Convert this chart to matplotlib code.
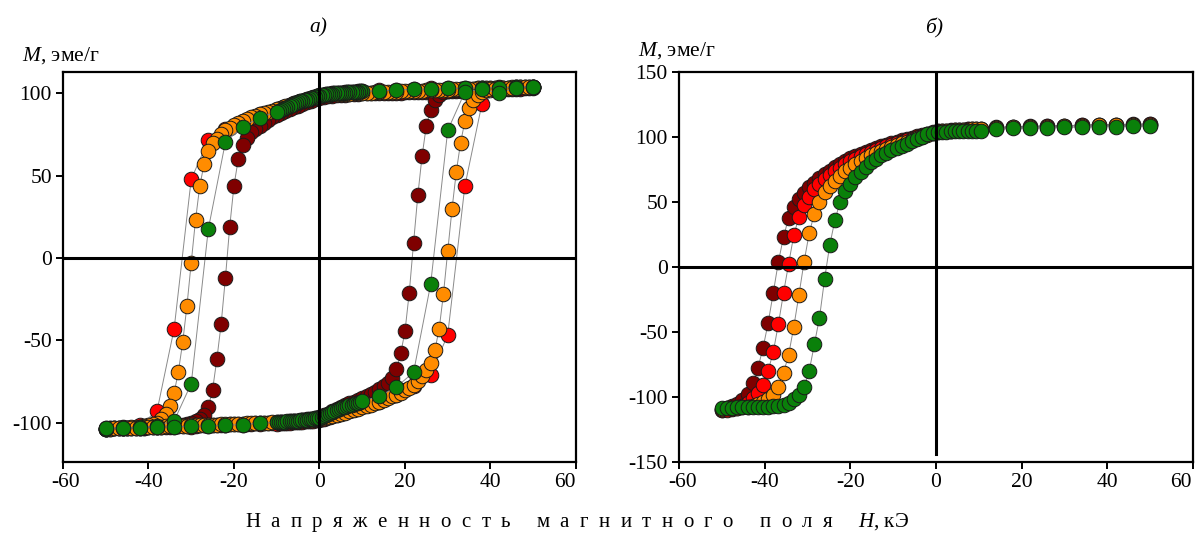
import matplotlib.pyplot as plt
import matplotlib.transforms as mtransforms

plt.rcParams['font.family'] = ['Liberation Serif', 'DejaVu Serif']
plt.rcParams['mathtext.fontset'] = 'custom'
plt.rcParams['mathtext.it'] = 'Liberation Serif:italic'
plt.rcParams['mathtext.rm'] = 'Liberation Serif'
plt.rcParams['axes.unicode_minus'] = False

# ---------------- panel a) ----------------
# field grid for red / green series (coarse outside +-10, fine inside)
h_coarse_desc = [50, 46, 42, 38, 34, 30, 26, 22, 18, 14,
                 10, 9.5, 9, 8.5, 8, 7.5, 7, 6.5, 6, 5.5, 5, 4.5, 4, 3.5, 3, 2.5, 2, 1.5, 1, 0.5,
                 0, -0.5, -1, -1.5, -2, -2.5, -3, -3.5, -4, -4.5, -5, -5.5, -6, -6.5, -7, -7.5,
                 -8, -8.5, -9, -9.5, -10,
                 -14, -18, -22, -26, -30, -34, -38, -42, -46, -50]
h_coarse_asc = h_coarse_desc[::-1]

# field grid for dark red / orange series (1 kOe step)
h_fine_desc = [50, 49, 48, 47, 46, 45, 44, 43, 42, 41,
               40, 39, 38, 37, 36, 35, 34, 33, 32, 31,
               30, 29, 28, 27, 26, 25, 24, 23, 22, 21,
               20, 19, 18, 17, 16, 15, 14, 13, 12, 11,
               10, 9, 8, 7, 6, 5, 4, 3, 2, 1,
               0, -1, -2, -3, -4, -5, -6, -7, -8, -9,
               -10, -11, -12, -13, -14, -15, -16, -17, -18, -19,
               -20, -21, -22, -23, -24, -25, -26, -27, -28, -29,
               -30, -31, -32, -33, -34, -35, -36, -37, -38, -39,
               -40, -41, -42, -43, -44, -45, -46, -47, -48, -49,
               -50]
h_fine_asc = h_fine_desc[::-1]

darkred_up = [103.2, 103.1, 103, 102.9, 102.8, 102.7, 102.6, 102.5, 102.4, 102.3,
              102.2, 102.1, 102, 101.9, 101.8, 101.7, 101.6, 101.5, 101.4, 101.3,
              101.2, 101.1, 101, 100.95, 100.9, 100.85, 100.8, 100.75, 100.7, 100.65,
              100.6, 100.55, 100.5, 100.45, 100.4, 100.35, 100.3, 100.25, 100.2, 100.15,
              100.1, 99.9, 99.7, 99.5, 99.3, 99.1, 98.9, 98.6, 98.2, 97.8,
              97.2, 96.4, 95.5, 94.6, 93.6, 92.6, 91.5, 90.4, 89.3, 88.2,
              87, 85.5, 83.8, 82, 80.3, 78.5, 76.3, 73, 68.5, 60,
              44, 19, -12, -40, -61.4, -80, -90.5, -95.5, -98, -99.3,
              -100.2, -100.8, -101.3, -101.7, -102, -102.2, -102.4, -102.6, -102.8, -102.9,
              -103, -103.1, -103.2, -103.3, -103.4, -103.4, -103.5, -103.5, -103.6, -103.6,
              -103.7]
darkred_down = [-103.7, -103.6, -103.6, -103.5, -103.5, -103.4, -103.4, -103.3, -103.2, -103.1,
                -103, -102.9, -102.8, -102.7, -102.6, -102.5, -102.4, -102.3, -102.2, -102.1,
                -102, -101.9, -101.8, -101.7, -101.6, -101.5, -101.4, -101.3, -101.2, -101.1,
                -101, -100.9, -100.8, -100.7, -100.6, -100.5, -100.4, -100.3, -100.2, -100.1,
                -100, -99.8, -99.6, -99.4, -99.1, -98.8, -98.5, -98.1, -97.7, -97.2,
                -96.5, -95.6, -94.6, -93.2, -91.6, -90.4, -89.3, -88.3, -87.3, -86.3,
                -85.2, -84, -82.6, -81.2, -79.6, -77.8, -75.8, -73, -67.5, -58,
                -44.6, -21, 9, 38, 62, 80.5, 90, 96, 99.2, 100.6,
                101.3, 101.8, 102.1, 102.4, 102.6, 102.8, 102.9, 103, 103.1, 103.2,
                103.3, 103.4, 103.4, 103.5, 103.5, 103.6, 103.6, 103.7, 103.7, 103.8,
                103.8]

orange_up = [104, 104, 104, 104, 103.8, 103.8, 103.6, 103.6, 103.4, 103.4,
             103.2, 103.2, 103, 103, 102.8, 102.8, 102.6, 102.6, 102.4, 102.4,
             102.2, 102.2, 102, 102, 101.8, 101.8, 101.6, 101.6, 101.4, 101.4,
             101.2, 101.2, 101, 101, 100.8, 100.8, 100.6, 100.6, 100.4, 100.4,
             100.2, 100.1, 100, 99.9, 99.8, 99.7, 99.6, 99.4, 99.2, 99,
             98.6, 97.9, 97.2, 96.4, 95.6, 94.8, 94, 93.1, 92.2, 91.3,
             90.4, 89.6, 88.8, 88, 87.2, 86.4, 85.4, 84.3, 83.2, 82,
             80.6, 79.2, 77.6, 75.5, 72.5, 69.9, 65, 57, 43.8, 23,
             -2.8, -29, -51.3, -69, -82, -90, -95, -98, -100, -101,
             -101.8, -102.2, -102.5, -102.8, -103, -103.2, -103.4, -103.5, -103.6, -103.7,
             -103.8]
orange_down = [-103.8, -103.7, -103.6, -103.5, -103.4, -103.3, -103.2, -103.1, -103, -102.9,
               -102.8, -102.7, -102.6, -102.5, -102.4, -102.3, -102.2, -102.1, -102, -101.9,
               -101.8, -101.7, -101.6, -101.5, -101.4, -101.3, -101.2, -101.1, -101, -100.9,
               -100.8, -100.7, -100.6, -100.5, -100.4, -100.3, -100.2, -100.1, -100, -99.9,
               -99.8, -99.6, -99.4, -99.2, -99, -98.8, -98.6, -98.4, -98.2, -98,
               -97.7, -97.3, -96.8, -96.2, -95.5, -94.8, -94, -93.2, -92.4, -91.6,
               -90.8, -90, -89.2, -88.3, -87.3, -86.2, -85, -84, -83, -81.8,
               -80.5, -78.8, -77, -75, -72, -68.3, -64, -56, -43, -21.8,
               4.2, 29.7, 52.3, 70, 83, 91, 96, 99, 100.8, 101.8,
               102.4, 102.8, 103.1, 103.3, 103.5, 103.6, 103.7, 103.8, 103.9, 104,
               104]

red_up = [104.2, 104, 103.8, 103.6, 103.4, 103.2, 103, 102.7, 102.3, 101.8,
          101.4, 101.3, 101.2, 101.1, 101, 100.9, 100.8, 100.7, 100.6, 100.5,
          100.4, 100.3, 100.2, 100.1, 100, 99.9, 99.7, 99.5, 99.3, 99.1,
          98.8, 98.4, 98, 97.6, 97.2, 96.8, 96.4, 96, 95.6, 95.2,
          94.8, 94.4, 94, 93.5, 93, 92.5, 92, 91.6, 91.2, 90.8, 90.4,
          87.5, 83.5, 78.5, 71.5, 47.9, -43, -93, -101.5, -103, -103.5]
red_down = [-103.8, -103.5, -103.2, -103, -102.8, -102.5, -102.2, -101.8, -101.4, -101,
            -100.6, -100.5, -100.4, -100.3, -100.2, -100.1, -100, -99.9, -99.8, -99.7,
            -99.6, -99.5, -99.4, -99.3, -99.2, -99.1, -99, -98.9, -98.7, -98.5,
            -98.2, -97.9, -97.6, -97.2, -96.8, -96.4, -96, -95.6, -95.2, -94.8,
            -94.4, -94, -93.6, -93.2, -92.8, -92.3, -91.8, -91.3, -90.8, -90.3, -89.8,
            -87.5, -83.5, -78, -71, -46.7, 43.6, 93.7, 101.5, 103, 103.8]

green_up = [104, 103.8, 103.6, 103.4, 103.2, 103, 102.8, 102.5, 102, 101.6,
            101.3, 101.2, 101.1, 101, 100.9, 100.8, 100.7, 100.6, 100.5, 100.4,
            100.3, 100.2, 100.1, 100, 99.9, 99.8, 99.6, 99.4, 99.2, 99,
            98.7, 98.3, 97.9, 97.5, 97.1, 96.7, 96.3, 95.9, 95.5, 95.1,
            94.6, 94.1, 93.6, 93.1, 92.5, 91.9, 91.3, 90.6, 89.9, 89.3, 88.7,
            85.3, 79.6, 70.5, 17.6, -76.4, -99, -102, -103, -103.5, -104]
green_down = [-103.3, -103.2, -103.2, -102.8, -102.6, -102.3, -102.2, -101.6, -101.2, -100.5,
              -99.8, -99.7, -99.6, -99.5, -99.4, -99.3, -99.2, -99.1, -99, -98.9,
              -98.8, -98.7, -98.5, -98.4, -98.2, -98, -97.8, -97.6, -97.4, -97.2,
              -97, -96.4, -95.8, -95.2, -94.6, -94, -93.4, -92.8, -92.3, -91.8,
              -91.3, -90.8, -90.4, -90, -89.6, -89.2, -88.8, -88.4, -88, -87.6, -87.2,
              -84, -78.4, -69.5, -16, 77.6, 100.8, 102.8, 100, 103.5, 104]

# ---------------- panel б) ----------------
h_right = [-50, -48.8, -47.6, -46.4, -45.2, -44, -42.8, -41.6, -40.4, -39.2,
           -38, -36.8, -35.6, -34.4, -33.2, -32, -30.8, -29.6, -28.4, -27.2,
           -26, -24.8, -23.6, -22.4, -21.2, -20, -18.8, -17.6, -16.4, -15.2,
           -14, -12.8, -11.6, -10.4, -9.2, -8, -6.8, -5.6, -4.4, -3.2,
           -2, -0.8, 0.4, 1.4, 2.4, 3.4, 4.4, 5.4, 6.4, 7.4,
           8.4, 9.4, 10.4, 14, 18, 22, 26, 30, 34, 38,
           42, 46, 50]

darkred_r = [-109.8, -108.4, -107.1, -105.5, -102.5, -97.5, -89, -78, -62.5, -43.3,
             -20, 4, 23, 38, 46.5, 52, 57, 61.3, 65, 68.3,
             71.4, 74.2, 76.7, 79.2, 81.5, 83.6, 85.5, 87.2, 88.8, 90.3,
             91.7, 93, 94.2, 95.4, 96.5, 97.6, 98.6, 99.6, 100.6, 101.6,
             102.6, 103.6, 104.4, 104.7, 104.9, 105.1, 105.3, 105.5, 105.7, 105.9,
             106.1, 106.3, 106.5, 107.4, 107.8, 108.2, 108.5, 108.8, 109.1, 109.4,
             109.6, 109.8, 110]
red_r = [-110, -109.7, -109.2, -108.4, -107, -104.6, -100.8, -96.8, -90.8, -80,
         -65.5, -44, -20, 2.5, 24.5, 38.5, 47.5, 54, 59.8, 63.8,
         67.5, 70.7, 73.6, 76.4, 79, 81.3, 83.4, 85.3, 87, 88.6,
         90.1, 91.5, 92.8, 94, 95.2, 96.3, 97.4, 98.5, 99.6, 100.8,
         102, 103.3, 104.3, 104.6, 104.8, 105, 105.2, 105.4, 105.6, 105.8,
         106, 106.2, 106.4, 107.2, 107.6, 108, 108.3, 108.6, 108.9, 109.2,
         109.4, 109.6, 109.8]
orange_r = [-109, -108.8, -108.5, -108.2, -107.8, -107.3, -106.6, -105.5, -104, -101.8,
            -98.5, -92, -81.5, -67.5, -46, -21.5, 4, 26, 41, 49.8,
            57.5, 62.5, 66.5, 70.2, 73.5, 76.4, 79.2, 81.6, 83.8, 85.8,
            87.6, 89.3, 90.9, 92.4, 93.8, 95.1, 96.4, 97.7, 99, 100.4,
            101.8, 103.2, 104.2, 104.5, 104.7, 104.9, 105.1, 105.3, 105.5, 105.7,
            105.9, 106.1, 106.3, 107, 107.4, 107.8, 108.1, 108.4, 108.7, 109,
            109.2, 109.4, 109.6]
green_r = [-108.2, -108.2, -108.1, -108, -107.9, -107.8, -107.7, -107.6, -107.4, -107.3,
           -107.1, -106.8, -106, -104.3, -101.8, -98.5, -92, -80, -59.5, -39,
           -9, 17, 36, 50, 58.5, 64, 69, 73.3, 77, 80.5,
           83.3, 85.8, 88, 90, 91.8, 93.4, 95, 96.8, 98.5, 100.3,
           102, 103.4, 104, 104.1, 104.2, 104.3, 104.4, 104.5, 104.6, 104.7,
           104.8, 104.9, 105, 106.5, 106.8, 107.1, 107.3, 107.5, 107.7, 107.9,
           108.1, 108.3, 108.5]

colors = {'darkred': '#7f0000', 'red': '#ff0000', 'orange': '#ff8c00', 'green': '#0a800a'}


def draw(ax, h, m, color, z):
    ax.plot(h, m, color='#8a8a8a', lw=0.7, zorder=z)
    ax.plot(h, m, 'o', ls='none', ms=10.5, mfc=color, mec='#1a1a1a', mew=0.7, zorder=z + 0.5)


fig = plt.figure(figsize=(11.95, 5.4), dpi=100)
ax1 = fig.add_axes([0.0527, 0.1444, 0.4293, 0.7222])
ax2 = fig.add_axes([0.5682, 0.1444, 0.4301, 0.7222])

draw(ax1, h_fine_desc, darkred_up, colors['darkred'], 2)
draw(ax1, h_fine_asc, darkred_down, colors['darkred'], 2)
draw(ax1, h_coarse_desc, red_up, colors['red'], 3)
draw(ax1, h_coarse_asc, red_down, colors['red'], 3)
draw(ax1, h_fine_desc, orange_up, colors['orange'], 4)
draw(ax1, h_fine_asc, orange_down, colors['orange'], 4)
draw(ax1, h_coarse_desc, green_up, colors['green'], 5)
draw(ax1, h_coarse_asc, green_down, colors['green'], 5)

draw(ax2, h_right, darkred_r, colors['darkred'], 2)
draw(ax2, h_right, red_r, colors['red'], 3)
draw(ax2, h_right, orange_r, colors['orange'], 4)
draw(ax2, h_right, green_r, colors['green'], 5)

ax1.set_xlim(-60, 60)
ax1.set_ylim(-124, 113)
ax1.set_yticks([-100, -50, 0, 50, 100])
ax2.set_xlim(-60, 60)
ax2.set_ylim(-150, 150)
ax2.set_yticks([-150, -100, -50, 0, 50, 100, 150])

ax1.axhline(0, color='k', lw=2.2, zorder=10)
ax1.axvline(0, color='k', lw=2.2, zorder=10)
ax2.axhline(0, color='k', lw=2.2, zorder=10)
ax2.axvline(0, ymin=0.02, color='k', lw=2.2, zorder=10)

for ax, first_dx, last_dx in ((ax1, 0.03, -0.11), (ax2, 0.04, -0.12)):
    ax.set_xticks([-60, -40, -20, 0, 20, 40, 60])
    for sp in ax.spines.values():
        sp.set_linewidth(1.6)
    ax.tick_params(direction='out', length=5, width=1.4, labelsize=15.5, pad=3)
    labels = ax.get_xticklabels()
    labels[0].set_transform(labels[0].get_transform()
                            + mtransforms.ScaledTranslation(first_dx, 0, fig.dpi_scale_trans))
    labels[-1].set_transform(labels[-1].get_transform()
                             + mtransforms.ScaledTranslation(last_dx, 0, fig.dpi_scale_trans))

fig.text(0.266, 0.948, 'а)', style='italic', fontsize=15.5, ha='center', va='center')
fig.text(0.782, 0.948, 'б)', style='italic', fontsize=15.5, ha='center', va='center')
fig.text(0.0184, 0.898, '$M$, эме/г', fontsize=15.5, ha='left', va='center')
fig.text(0.534, 0.907, '$M$, эме/г', fontsize=15.5, ha='left', va='center')

xlabel = ('Н  а  п  р  я  ж  е  н  н  о  с  т  ь     м  а  г  н  и  т  н  о  г  о     '
          'п  о  л  я     $H$, кЭ')
fig.text(0.483, 0.0315, xlabel, fontsize=15, ha='center', va='center')

fig.savefig('out.png', dpi=100)
